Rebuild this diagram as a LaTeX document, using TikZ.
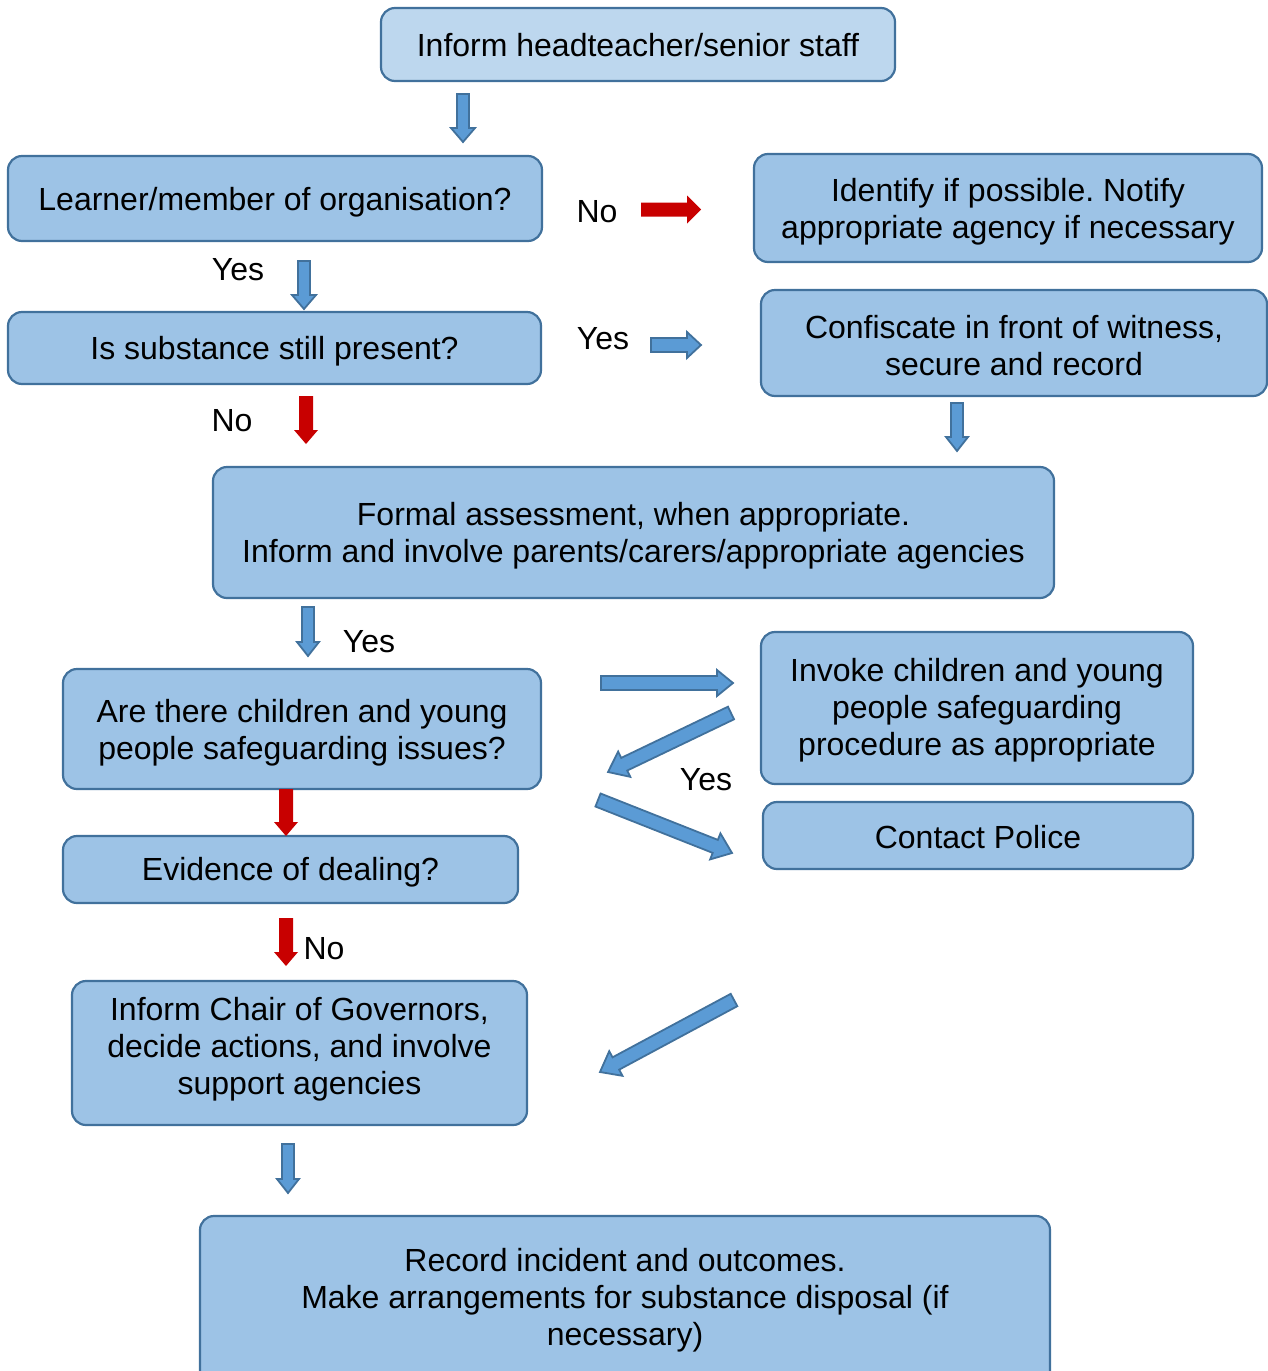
\documentclass[tikz,border=0pt]{standalone}
\usepackage{fontspec}
\setmainfont{Liberation Sans}
\usetikzlibrary{calc}
\frenchspacing
\definecolor{boxfill}{HTML}{9DC3E6}
\definecolor{topfill}{HTML}{BDD7EE}
\definecolor{boxline}{HTML}{41719C}
\definecolor{arrfill}{HTML}{5B9BD5}
\definecolor{redarr}{HTML}{C80000}
% block arrow: #1 style, #2 tail, #3 tip, #4 shaft half width, #5 head half width, #6 head length
\newcommand\barrow[6]{%
  \path[#1] ($(#2)!#4!90:(#3)$)
    -- ($($(#3)!#6!(#2)$)!#4!90:(#3)$)
    -- ($($(#3)!#6!(#2)$)!#5!90:(#3)$)
    -- (#3)
    -- ($($(#3)!#6!(#2)$)!#5!-90:(#3)$)
    -- ($($(#3)!#6!(#2)$)!#4!-90:(#3)$)
    -- ($(#2)!#4!-90:(#3)$) -- cycle;}
\begin{document}
\begin{tikzpicture}[x=1pt,y=-1pt,
  box/.style={draw=boxline, line width=2.2pt, fill=boxfill, rounded corners=14pt, inner sep=0pt},
  txt/.style={align=center, inner sep=0pt, font=\fontsize{32}{37}\selectfont},
  lbl/.style={font=\fontsize{32}{37}\selectfont, inner sep=0pt, text height=23pt, text depth=0pt},
  bluearr/.style={fill=arrfill, draw=boxline, line width=1.8pt, line join=miter},
  redarrow/.style={fill=redarr}]
\useasboundingbox (0,0) rectangle (1268,1371);

% boxes
\node[box, fill=topfill, minimum width=514pt, minimum height=73pt] (top) at (638,44.5) {};
\node[txt] (toptext) at ([yshift=-0.5pt]top.center) {Inform headteacher/senior staff};
\node[box, minimum width=534pt, minimum height=85pt] (learner) at (275,198.5) {};
\node[txt] (learnertext) at ([yshift=-3.5pt]learner.center) {Learner/member of organisation?};
\node[box, minimum width=508pt, minimum height=108pt] (identify) at (1008,208) {};
\node[txt] (identifytext) at ([yshift=-4pt]identify.center) {Identify if possible. Notify\\appropriate agency if necessary};
\node[box, minimum width=533pt, minimum height=72pt] (present) at (274.5,348) {};
\node[txt] (presenttext) at ([yshift=-3.5pt]present.center) {Is substance still present?};
\node[box, minimum width=506pt, minimum height=106pt] (confiscate) at (1014,343) {};
\node[txt] (confiscatetext) at ([yshift=-2.5pt]confiscate.center) {Confiscate in front of witness,\\secure and record};
\node[box, minimum width=841pt, minimum height=131pt] (formal) at (633.5,532.5) {};
\node[txt] (formaltext) at ([yshift=-3.5pt]formal.center) {Formal assessment, when appropriate.\\Inform and involve parents/carers/appropriate agencies};
\node[box, minimum width=478pt, minimum height=120pt] (issues) at (302,729) {};
\node[txt] (issuestext) at ([yshift=-4pt]issues.center) {Are there children and young\\people safeguarding issues?};
\node[box, minimum width=432pt, minimum height=152pt] (invoke) at (977,708) {};
\node[txt] (invoketext) at ([yshift=-2.5pt]invoke.center) {Invoke children and young\\people safeguarding\\procedure as appropriate};
\node[box, minimum width=430pt, minimum height=67pt] (police) at (978,835.5) {};
\node[txt] (policetext) at ([yshift=-2pt]police.center) {Contact Police};
\node[box, minimum width=455pt, minimum height=67pt] (dealing) at (290.5,869.5) {};
\node[txt] (dealingtext) at ([yshift=-3pt]dealing.center) {Evidence of dealing?};
\node[box, minimum width=455pt, minimum height=144pt] (chair) at (299.5,1053) {};
\node[txt] (chairtext) at (299.5,1049.5) {Inform Chair of Governors,\\decide actions, and involve\\support agencies};
\node[box, minimum width=850pt, minimum height=180pt] (record) at (625,1306) {};
\node[txt] (recordtext) at (625,1300) {Record incident and outcomes.\\Make arrangements for substance disposal (if\\necessary)};

% labels
\node[lbl] (no1) at (597,211) {No};
\node[lbl] (yes1) at (238,269) {Yes};
\node[lbl] (yes2) at (603,338) {Yes};
\node[lbl] (no2) at (232,420) {No};
\node[lbl] (yes3) at (369,641) {Yes};
\node[lbl] (yes4) at (706,779) {Yes};
\node[lbl] (no3) at (324,948) {No};

% block arrows
\barrow{bluearr}{463,94}{463,142}{6pt}{12pt}{14pt}
\barrow{redarrow}{641,209.5}{701,209.5}{7pt}{14pt}{14pt}
\barrow{bluearr}{304,261}{304,309}{6pt}{12pt}{14pt}
\barrow{bluearr}{651,345}{701,345}{7pt}{13pt}{14pt}
\barrow{redarrow}{306,396}{306,444}{7pt}{12pt}{14pt}
\barrow{bluearr}{957,403}{957,451}{6pt}{11pt}{14pt}
\barrow{bluearr}{308,607}{308,656}{6pt}{11pt}{14pt}
\barrow{bluearr}{601,683}{733,683}{7pt}{13pt}{16pt}
\barrow{bluearr}{731,713}{608,772}{7pt}{14pt}{18pt}
\barrow{bluearr}{598,800}{732,853}{7pt}{14pt}{18pt}
\barrow{redarrow}{286,789}{286,836}{7pt}{12pt}{14pt}
\barrow{redarrow}{286,918}{286,966}{7pt}{12pt}{14pt}
\barrow{bluearr}{734,1000}{600,1072}{7pt}{14pt}{18pt}
\barrow{bluearr}{288,1144}{288,1193}{6pt}{11pt}{14pt}
\end{tikzpicture}
\end{document}
